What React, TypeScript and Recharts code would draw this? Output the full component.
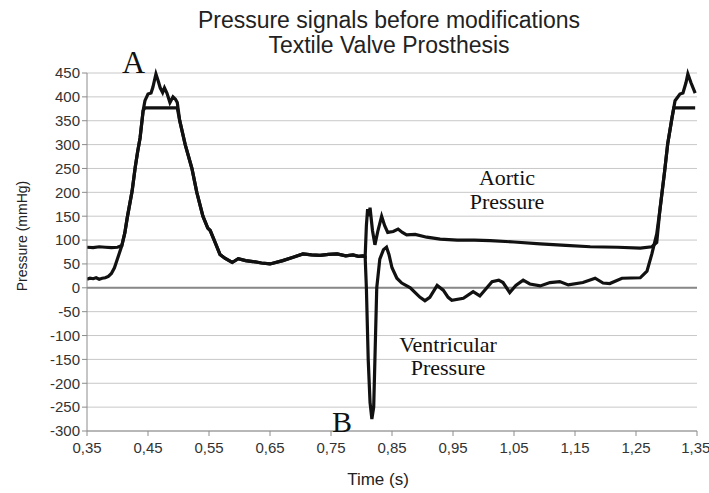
import { LineChart, Line, XAxis, YAxis, CartesianGrid, ReferenceLine } from 'recharts';

// time (s) / pressure (mmHg) pairs
type Pt = { t: number; p: number };

const timeTicks = [0.35, 0.45, 0.55, 0.65, 0.75, 0.85, 0.95, 1.05, 1.15, 1.25, 1.35];
const pressureTicks = [-300, -250, -200, -150, -100, -50, 0, 50, 100, 150, 200, 250, 300, 350, 400, 450];

// systolic upstroke shared by both traces
const riseT = [0.407, 0.412, 0.416, 0.424, 0.429, 0.433, 0.437, 0.442];
const riseP = [88, 115, 147, 203, 252, 285, 314, 371];

// downstroke + plateau where both traces overlap
const fallT = [0.502, 0.511, 0.522, 0.53, 0.54, 0.548, 0.552, 0.56, 0.568, 0.576, 0.588, 0.598, 0.61, 0.622, 0.636, 0.65, 0.671, 0.688, 0.704, 0.718, 0.732, 0.746, 0.76, 0.774, 0.786, 0.795, 0.802, 0.806];
const fallP = [350, 300, 250, 200, 150, 125, 120, 95, 70, 62, 53, 61, 57, 55, 52, 50, 57, 64, 71, 69, 68, 70, 71, 67, 69, 66, 67, 65];

const aorticStartT = [0.35, 0.36, 0.37, 0.38, 0.39, 0.4, 0.404];
const aorticStartP = [85, 84, 86, 85, 84, 85, 87];
const aorticTopT = [0.445, 0.498];
const aorticTopP = [377, 377];
const aorticEndT = [0.808, 0.81, 0.812, 0.814, 0.818, 0.822, 0.827, 0.833, 0.838, 0.843, 0.852, 0.86, 0.867, 0.874, 0.888, 0.907, 0.929, 0.957, 0.985, 1.011, 1.05, 1.093, 1.135, 1.175, 1.22, 1.257, 1.276, 1.284, 1.289, 1.297, 1.302, 1.309, 1.312, 1.347];
const aorticEndP = [130, 165, 150, 168, 120, 90, 120, 150, 130, 116, 118, 123, 116, 111, 112, 106, 102, 100, 100, 99, 96, 92, 89, 86, 85, 83, 86, 95, 161, 245, 302, 356, 377, 377];

const ventStartT = [0.35, 0.355, 0.36, 0.365, 0.37, 0.375, 0.38, 0.385, 0.39, 0.395, 0.399];
const ventStartP = [18, 20, 19, 21, 18, 20, 21, 24, 30, 42, 57];
const ventTopT = [0.445, 0.45, 0.455, 0.458, 0.463, 0.467, 0.47, 0.474, 0.477, 0.481, 0.486, 0.491, 0.495, 0.498];
const ventTopP = [392, 406, 408, 420, 448, 432, 419, 409, 419, 408, 388, 400, 395, 388];
const ventEndT = [0.808, 0.811, 0.814, 0.817, 0.82, 0.822, 0.825, 0.83, 0.836, 0.841, 0.845, 0.85, 0.858, 0.866, 0.88, 0.888, 0.896, 0.904, 0.912, 0.924, 0.934, 0.942, 0.948, 0.967, 0.983, 0.994, 1.014, 1.025, 1.032, 1.043, 1.053, 1.065, 1.076, 1.093, 1.109, 1.125, 1.139, 1.163, 1.183, 1.196, 1.207, 1.227, 1.257, 1.268, 1.276, 1.284, 1.289, 1.297, 1.302, 1.309, 1.314, 1.322, 1.327, 1.332, 1.335, 1.34, 1.347];
const ventEndP = [0, -150, -240, -275, -250, -150, 0, 60, 80, 85, 70, 42, 20, 10, 0, -10, -20, -27, -20, 5, -5, -20, -26, -22, -8, -17, 13, 16, 11, -10, 5, 16, 8, 4, 11, 13, 6, 11, 20, 10, 9, 20, 21, 35, 71, 113, 161, 245, 302, 356, 392, 406, 408, 430, 448, 430, 408];

const zip = (ts: number[], ps: number[]): Pt[] => ts.map((t, i) => ({ t, p: ps[i] }));

const aortic: Pt[] = [
  ...zip(aorticStartT, aorticStartP),
  ...zip(riseT, riseP),
  ...zip(aorticTopT, aorticTopP),
  ...zip(fallT, fallP),
  ...zip(aorticEndT, aorticEndP),
];

const ventricular: Pt[] = [
  ...zip(ventStartT, ventStartP),
  ...zip(riseT, riseP),
  ...zip(ventTopT, ventTopP),
  ...zip(fallT, fallP),
  ...zip(ventEndT, ventEndP),
];

const sans = '"Liberation Sans", Arial, sans-serif';
const serif = '"Liberation Serif", "Times New Roman", serif';
const tickStyle = { fontSize: 15, fill: '#333', fontFamily: sans };

export default function App() {
  return (
    <div style={{ position: 'absolute', left: 0, top: 0, width: 709, height: 493, background: '#fff' }}>
      <LineChart width={709} height={493} margin={{ top: 73, right: 12, bottom: 32, left: 0 }}>
        <CartesianGrid vertical={false} stroke="#c8c8c8" />
        <XAxis
          dataKey="t"
          type="number"
          domain={[0.35, 1.35]}
          ticks={timeTicks}
          allowDataOverflow
          height={30}
          tickFormatter={(v: number) => v.toFixed(2).replace('.', ',')}
          tick={tickStyle}
          stroke="#8c8c8c"
          tickSize={5}
          tickMargin={6}
        />
        <YAxis
          type="number"
          domain={[-300, 450]}
          ticks={pressureTicks}
          width={87}
          tick={tickStyle}
          stroke="#8c8c8c"
          tickSize={5}
          tickMargin={2}
        />
        <ReferenceLine y={0} stroke="#888" strokeWidth={2} />
        <Line data={aortic} dataKey="p" type="linear" stroke="#111" strokeWidth={3.2} dot={false} isAnimationActive={false} />
        <Line data={ventricular} dataKey="p" type="linear" stroke="#111" strokeWidth={3.2} dot={false} isAnimationActive={false} />
      </LineChart>
      <svg width={709} height={493} style={{ position: 'absolute', left: 0, top: 0, pointerEvents: 'none' }}>
        <g fontFamily={sans} fill="#222" textAnchor="middle">
          <text x={389} y={28} fontSize={23}>Pressure signals before modifications</text>
          <text x={389} y={53} fontSize={23}>Textile Valve Prosthesis</text>
          <text x={378} y={485} fontSize={17}>Time (s)</text>
          <text x={0} y={0} fontSize={14} transform="translate(27 236) rotate(-90)">Pressure (mmHg)</text>
        </g>
        <g fontFamily={serif} fill="#111">
          <text x={122} y={73} fontSize={32}>A</text>
          <text x={332} y={432} fontSize={30}>B</text>
          <text x={507} y={185} fontSize={22} textAnchor="middle">Aortic</text>
          <text x={507} y={209} fontSize={22} textAnchor="middle">Pressure</text>
          <text x={448} y={352} fontSize={22} textAnchor="middle">Ventricular</text>
          <text x={448} y={375} fontSize={22} textAnchor="middle">Pressure</text>
        </g>
      </svg>
    </div>
  );
}
